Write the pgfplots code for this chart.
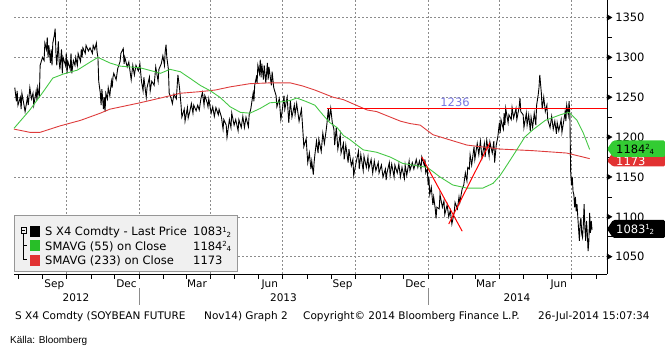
\documentclass[border=0pt]{standalone}
\usepackage{pgfplots}
\pgfplotsset{compat=1.18}
\usepackage{fontspec}
\setmainfont{DejaVu Sans}
\newfontfamily\narrowfont{Liberation Sans}
\definecolor{smagreen}{RGB}{70,200,70}
\definecolor{smared}{RGB}{222,60,60}
\definecolor{trendred}{RGB}{255,0,0}
\definecolor{gridgray}{RGB}{140,140,140}
\definecolor{lbl}{RGB}{120,120,225}
\definecolor{legfill}{RGB}{240,240,240}
\definecolor{legborder}{RGB}{150,150,150}
\definecolor{badgegreen}{RGB}{51,204,51}
\definecolor{badgered}{RGB}{226,50,50}
\definecolor{sqgreen}{RGB}{40,190,40}
\definecolor{sqred}{RGB}{225,50,50}
\newcommand{\fr}[2]{\raisebox{0.32em}{\fontsize{7bp}{7bp}\selectfont #1}\hspace{-0.3bp}\raisebox{-0.12em}{\fontsize{7bp}{7bp}\selectfont #2}}
\newcommand{\fa}{\fontsize{10.5bp}{12bp}\selectfont}
\newcommand{\fb}{\fontsize{11.5bp}{13bp}\selectfont}
\begin{document}
\begin{tikzpicture}
\path[use as bounding box] (0bp,0bp) rectangle (665bp,351bp);
\begin{axis}[
  at={(14bp,77bp)}, anchor=south west,
  width=593bp, height=274bp, scale only axis,
  xmin=-158, xmax=590.9, ymin=1028.3, ymax=1371.95,
  axis x line*=bottom, axis y line*=right,
  axis line style={-, black, line width=0.8bp},
  clip=false,
  tick align=outside,
  xtick={-107,-16,73,165,257,349,438,530},
  xticklabels={Sep,Dec,Mar,Jun,Sep,Dec,Mar,Jun},
  minor xtick={-153,-122,-92,-61,-31,0,31,59,90,120,151,181,212,243,273,304,334,365,396,424,455,485,516,546,577},
  major x tick style={draw=none},
  minor tick length=4.5bp,
  minor x tick style={black, line width=0.6bp},
  ytick={1050,1100,1150,1200,1250,1300,1350},
  yticklabels={1050,1100,1150,1200,1250,1300,1350},
  minor ytick={1075,1125,1175,1225,1275,1325},
  major y tick style={draw=none},
  minor y tick style={black, line width=0.6bp},
  ymajorgrids=true,
  extra x ticks={-92,0,90,181,273,365,455,546},
  extra x tick labels={},
  extra x tick style={grid=major, major tick length=0pt},
  major grid style={draw=gridgray, dash pattern=on 2bp off 2bp, line width=0.6bp},
  yticklabel style={font=\fb, anchor=west, xshift=0.5bp},
  xticklabel style={font=\fa, yshift=2bp},
]
% price
\addplot[black, line width=0.9bp] coordinates {
(-157,1262) (-155,1245) (-154,1258) (-153,1240) (-150,1250) (-149,1235) (-148,1255) (-145,1238) (-144,1232) (-141,1250)
(-140,1240) (-138,1262) (-136,1248) (-134,1255) (-133,1240) (-130,1258) (-129,1246) (-128,1262) (-126,1250) (-125,1290)
(-122,1300) (-120,1296) (-119,1318) (-117,1310) (-116,1325) (-115,1300) (-114,1315) (-112,1293) (-111,1310) (-110,1290)
(-109,1318) (-107,1328) (-106,1336) (-105,1305) (-104,1290) (-102,1320) (-101,1295) (-100,1285) (-98,1310) (-97,1280)
(-96,1300) (-93,1290) (-92,1305) (-91,1280) (-90,1295) (-87,1285) (-86,1305) (-85,1280) (-83,1296) (-81,1290)
(-80,1300) (-78,1290) (-77,1305) (-74,1295) (-73,1310) (-72,1300) (-71,1312) (-68,1305) (-67,1315) (-64,1308)
(-62,1312) (-59,1305) (-58,1315) (-56,1310) (-54,1318) (-53,1306) (-52,1300) (-51,1270) (-49,1255) (-48,1240)
(-47,1260) (-45,1235) (-44,1250) (-43,1232) (-42,1255) (-40,1248) (-39,1262) (-37,1252) (-35,1270) (-34,1262)
(-33,1275) (-32,1280) (-29,1272) (-27,1286) (-24,1295) (-23,1305) (-20,1311) (-19,1292) (-18,1300) (-15,1288)
(-13,1294) (-10,1272) (-8,1290) (-6,1278) (-4,1290) (-1,1283) (1,1292) (3,1270) (5,1258) (6,1275)
(9,1250) (10,1262) (13,1275) (14,1258) (16,1270) (19,1265) (21,1288) (24,1270) (25,1285) (28,1292)
(30,1302) (32,1290) (33,1308) (34,1316) (35,1300) (37,1285) (38,1255) (40,1250) (42,1242) (44,1254)
(47,1248) (49,1278) (51,1262) (53,1240) (54,1225) (57,1235) (58,1220) (61,1237) (62,1224) (64,1232)
(66,1242) (68,1230) (69,1240) (72,1233) (74,1240) (76,1234) (78,1248) (80,1256) (82,1240) (83,1252)
(86,1243) (87,1238) (88,1248) (91,1230) (93,1238) (95,1226) (97,1237) (100,1228) (101,1235) (104,1225)
(106,1210) (107,1222) (110,1215) (111,1200) (114,1222) (116,1212) (117,1230) (120,1215) (122,1222) (125,1208)
(126,1222) (129,1212) (131,1226) (133,1212) (135,1225) (138,1213) (139,1228) (141,1235) (144,1255) (145,1245)
(146,1265) (148,1275) (149,1268) (150,1290) (152,1280) (153,1297) (154,1275) (155,1292) (157,1272) (158,1290)
(160,1268) (162,1293) (163,1272) (164,1288) (167,1265) (168,1282) (170,1262) (173,1252) (174,1238) (177,1248)
(179,1222) (181,1235) (183,1252) (184,1235) (187,1250) (189,1218) (191,1245) (193,1225) (196,1240) (197,1228)
(199,1242) (202,1220) (205,1235) (207,1205) (208,1188) (211,1198) (212,1182) (213,1168) (215,1180) (217,1160)
(218,1170) (220,1153) (221,1168) (222,1178) (224,1195) (226,1180) (227,1197) (230,1182) (232,1205) (234,1192)
(236,1207) (237,1215) (239,1236) (240,1220) (242,1236) (244,1218) (246,1210) (247,1190) (249,1212) (251,1185)
(254,1203) (255,1180) (258,1192) (259,1172) (261,1190) (264,1168) (265,1185) (268,1164) (270,1172) (271,1152)
(274,1168) (277,1182) (278,1160) (280,1178) (283,1158) (284,1176) (287,1162) (289,1175) (290,1160) (293,1172)
(295,1155) (297,1170) (299,1158) (302,1168) (303,1155) (306,1165) (308,1150) (311,1160) (312,1146) (313,1155)
(316,1168) (317,1152) (319,1166) (322,1150) (323,1165) (326,1155) (328,1166) (330,1150) (332,1162) (335,1148)
(336,1165) (338,1152) (341,1170) (342,1158) (345,1168) (347,1160) (350,1172) (352,1162) (354,1170) (356,1160)
(357,1175) (360,1165) (361,1172) (362,1155) (364,1160) (365,1140) (366,1150) (367,1128) (369,1137) (371,1115)
(372,1125) (374,1110) (375,1098) (376,1112) (379,1110) (380,1128) (383,1112) (385,1120) (386,1103) (389,1115)
(391,1100) (393,1108) (395,1091) (398,1106) (399,1118) (402,1110) (404,1125) (405,1118) (408,1135) (410,1140)
(412,1155) (414,1145) (415,1162) (417,1160) (418,1178) (420,1165) (423,1188) (424,1172) (427,1192) (429,1178)
(431,1195) (433,1174) (436,1192) (437,1175) (439,1196) (442,1176) (443,1194) (446,1180) (448,1195) (449,1168)
(451,1190) (453,1200) (455,1218) (456,1205) (457,1222) (460,1210) (461,1230) (462,1215) (463,1236) (466,1218)
(467,1228) (470,1222) (471,1237) (473,1224) (476,1236) (477,1222) (480,1238) (481,1249) (482,1232) (485,1228)
(486,1212) (489,1230) (490,1215) (492,1228) (494,1208) (495,1225) (497,1212) (499,1230) (501,1215) (502,1240)
(504,1253) (505,1262) (506,1278) (508,1255) (509,1235) (511,1250) (513,1232) (515,1240) (516,1222) (519,1212)
(521,1226) (523,1210) (525,1220) (527,1204) (528,1218) (530,1208) (533,1222) (534,1206) (537,1225) (538,1232)
(539,1220) (540,1240) (542,1228) (543,1245) (544,1228) (545,1157) (546,1140) (547,1150) (548,1132) (549,1128)
(550,1112) (551,1125) (552,1107) (553,1116) (554,1100) (555,1085) (556,1070) (557,1092) (558,1099) (559,1078)
(560,1074) (561,1090) (562,1116) (563,1085) (564,1070) (565,1095) (566,1080) (567,1057) (568,1070) (569,1105)
(570,1080) (571,1095) (572,1083.5)
};
% SMA 233
\addplot[smared, line width=0.9bp] coordinates {
(-158,1210) (-138,1206) (-125,1206) (-100,1214) (-74,1221) (-49,1230) (-37,1235) (1,1243) (27,1249) (52,1255)
(77,1257) (96,1259) (115,1263) (140,1267) (165,1268) (191,1268) (207,1264) (222,1259) (245,1250) (258,1247)
(288,1234) (300,1232) (330,1220) (342,1217) (355,1215) (371,1203) (414,1190) (456,1185) (497,1183) (540,1180)
(569,1173)
};
% SMA 55
\addplot[smagreen, line width=0.9bp] coordinates {
(-158,1211) (-138,1234) (-121,1257) (-109,1274) (-96,1279) (-78,1284) (-62,1294) (-52,1300) (-37,1293) (-24,1289)
(1,1287) (20,1282) (27,1280) (39,1285) (52,1282) (64,1274) (77,1265) (90,1258) (102,1250) (115,1238)
(128,1231) (140,1230) (153,1236) (165,1243) (178,1244) (191,1246) (199,1249) (210,1245) (222,1240) (232,1228)
(241,1218) (250,1212) (258,1202) (266,1197) (283,1184) (300,1181) (317,1175) (333,1167) (351,1164) (364,1162)
(380,1150) (396,1140) (414,1136) (434,1136) (447,1142) (456,1152) (462,1161) (475,1181) (487,1200) (497,1209)
(513,1221) (532,1228) (542,1231) (544,1230) (553,1221) (561,1205) (569,1184.5)
};
% trend lines
\addplot[trendred, line width=1bp] coordinates {(237,1236) (590.9,1236)};
\addplot[trendred, line width=1bp] coordinates {(357,1175) (408,1082)};
\addplot[trendred, line width=1bp] coordinates {(391,1091) (443,1193)};
\node[text=lbl, font=\fb] at (axis cs:399,1243) {1236};
% y tick arrows
\addplot[only marks, mark=triangle*, mark size=3.3bp, mark options={xshift=1.65bp, rotate=-90, fill=black, draw=black}]
coordinates {(590.9,1050) (590.9,1100) (590.9,1150) (590.9,1200) (590.9,1250) (590.9,1300) (590.9,1350)};
\end{axis}
\begin{scope}[x=1bp,y=1bp]
% legend
\draw[fill=legfill, draw=legborder, line width=0.8bp] (14,80) rectangle (237,136);
\fill[black] (30,114) rectangle (40,125);
\fill[sqgreen] (30,99.5) rectangle (40,110.5);
\fill[sqred] (30,85) rectangle (40,96);
\draw[line width=0.6bp] (20.8,118) rectangle (26,123.5);
\draw[line width=0.6bp] (21.8,120.75) -- (25,120.75);
\draw[line width=0.6bp] (23.4,118) -- (23.4,92) -- (27,92);
\draw[line width=0.6bp] (23.4,106) -- (27,106);
\node[anchor=base west, inner sep=0, font=\fb] at (45,115.3) {S X4 Comdty - Last Price};
\node[anchor=base west, inner sep=0, font=\fb] at (45,100.8) {SMAVG (55) on Close};
\node[anchor=base west, inner sep=0, font=\fb] at (45,86.1) {SMAVG (233) on Close};
\node[anchor=base west, inner sep=0, font=\fb] at (193,115.3) {1083\fr{1}{2}};
\node[anchor=base west, inner sep=0, font=\fb] at (193,100.8) {1184\fr{2}{4}};
\node[anchor=base west, inner sep=0, font=\fb] at (193,86.1) {1173};
% year labels
\draw[gridgray, line width=0.6bp] (139,63) -- (139,46);
\draw[gridgray, line width=0.6bp] (428,63) -- (428,46);
\node[font=\fa] at (76,53) {2012};
\node[font=\fa] at (283.5,53) {2013};
\node[font=\fa] at (517,53) {2014};
% footer
\node[anchor=base west, inner sep=0, font=\fa] at (15,32) {S X4 Comdty (SOYBEAN FUTURE};
\node[anchor=base west, inner sep=0, font=\fa] at (204,32) {Nov14) Graph 2};
\node[anchor=base west, inner sep=0, font=\fa] at (303,32) {Copyright\textcopyright{} 2014 Bloomberg Finance L.P.};
\node[anchor=base west, inner sep=0, font=\fa] at (538,32) {26-Jul-2014 15:07:34};
\node[anchor=base west, inner sep=0, font=\narrowfont\fontsize{10bp}{11bp}\selectfont] at (10,7.5) {Källa: Bloomberg};
% badges
\fill[badgered, rounded corners=1.5bp] (607,190) -- (613,199) -- (665,199) -- (665,184.5) -- (613,184.5) -- cycle;
\node[anchor=base west, inner sep=0, text=white, font=\fb] at (616,186) {1173};
\fill[badgegreen, rounded corners=1.5bp] (607,202) -- (613,210.5) -- (665,210.5) -- (665,194) -- (613,194) -- cycle;
\node[anchor=base west, inner sep=0, text=black, font=\fb] at (616,197.8) {1184\fr{2}{4}};
\fill[black, rounded corners=1.5bp] (607,122) -- (613,131) -- (665,131) -- (665,113) -- (613,113) -- cycle;
\node[anchor=base west, inner sep=0, text=white, font=\fb] at (616,117.8) {1083\fr{1}{2}};
\end{scope}
\end{tikzpicture}
\end{document}
